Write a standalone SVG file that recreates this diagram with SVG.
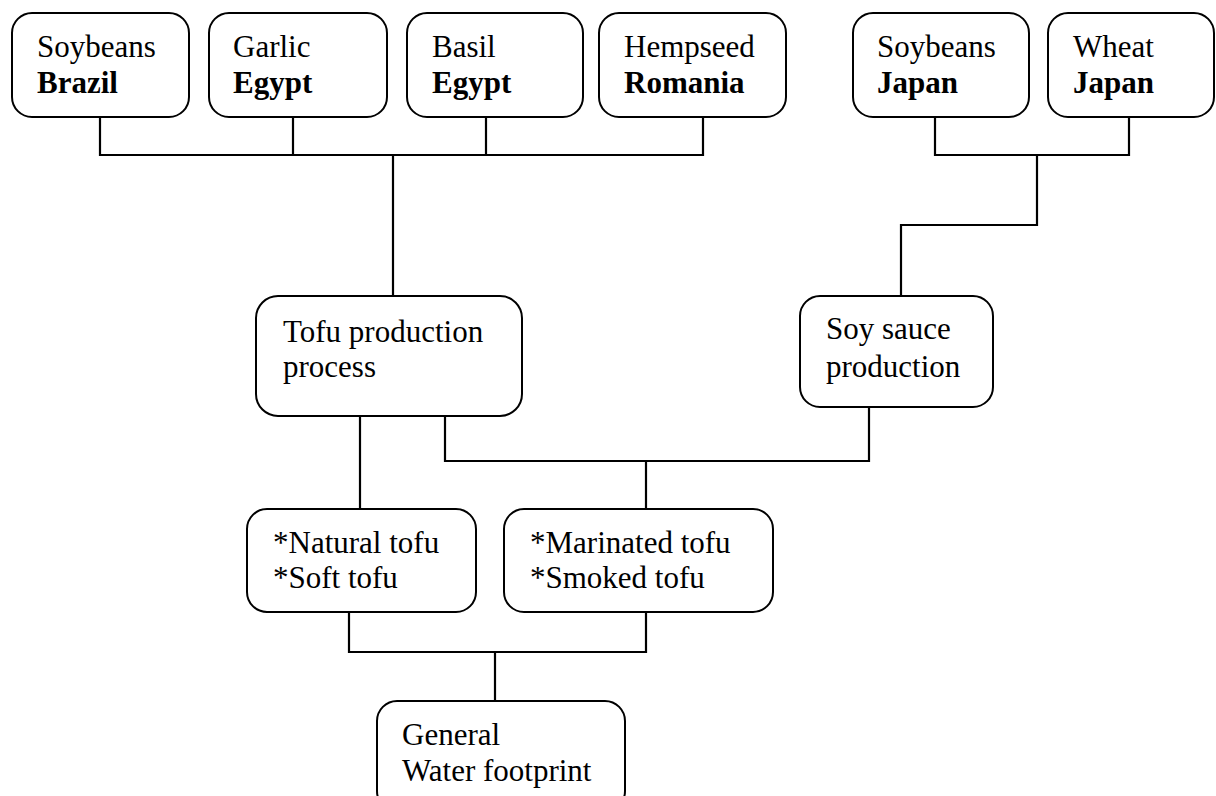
<svg xmlns="http://www.w3.org/2000/svg" width="1216" height="796" viewBox="0 0 1216 796">
<style>
.box{fill:#fff;stroke:#000;stroke-width:2}
.t{font-family:"Liberation Serif","Times New Roman",serif;font-size:31px;fill:#000}
.b{font-weight:bold}
.c{fill:none;stroke:#000;stroke-width:2.2}
</style>
<rect width="1216" height="796" fill="#fff"/>
<g id="connectors">
<path class="c" d="M100 117V155H703V117M293 117V155M486 117V155M393 155V296"/>
<path class="c" d="M935 117V155H1129V117M1037 155V225H901V296"/>
<path class="c" d="M360 416V509M445 416V461H869V407M646 461V509"/>
<path class="c" d="M349 612V652H646V612M495 652V701"/>
</g>
<g id="n-soy-brazil"><rect class="box" x="12" y="13" width="177" height="104" rx="20"/><text class="t" x="37" y="57">Soybeans</text><text class="t b" x="37" y="93">Brazil</text></g>
<g id="n-garlic"><rect class="box" x="209" y="13" width="178" height="104" rx="20"/><text class="t" x="233" y="57">Garlic</text><text class="t b" x="233" y="93">Egypt</text></g>
<g id="n-basil"><rect class="box" x="407" y="13" width="176" height="104" rx="20"/><text class="t" x="432" y="57">Basil</text><text class="t b" x="432" y="93">Egypt</text></g>
<g id="n-hempseed"><rect class="box" x="599" y="13" width="187" height="104" rx="20"/><text class="t" x="624" y="57">Hempseed</text><text class="t b" x="624" y="93">Romania</text></g>
<g id="n-soy-japan"><rect class="box" x="853" y="13" width="176" height="104" rx="20"/><text class="t" x="877" y="57">Soybeans</text><text class="t b" x="877" y="93">Japan</text></g>
<g id="n-wheat"><rect class="box" x="1048" y="13" width="166" height="104" rx="20"/><text class="t" x="1073" y="57">Wheat</text><text class="t b" x="1073" y="93">Japan</text></g>
<g id="n-tofu"><rect class="box" x="256" y="296" width="266" height="120" rx="22"/><text class="t" x="283" y="342">Tofu production</text><text class="t" x="283" y="377">process</text></g>
<g id="n-soysauce"><rect class="box" x="800" y="296" width="193" height="111" rx="20"/><text class="t" x="826" y="339">Soy sauce</text><text class="t" x="826" y="377">production</text></g>
<g id="n-natural"><rect class="box" x="247" y="509" width="229" height="103" rx="20"/><text class="t" x="273" y="553">*Natural tofu</text><text class="t" x="273" y="588">*Soft tofu</text></g>
<g id="n-marinated"><rect class="box" x="504" y="509" width="269" height="103" rx="20"/><text class="t" x="530" y="553">*Marinated tofu</text><text class="t" x="530" y="588">*Smoked tofu</text></g>
<g id="n-general"><rect class="box" x="377" y="701" width="248" height="110" rx="20"/><text class="t" x="402" y="745">General</text><text class="t" x="402" y="781">Water footprint</text></g>
</svg>
